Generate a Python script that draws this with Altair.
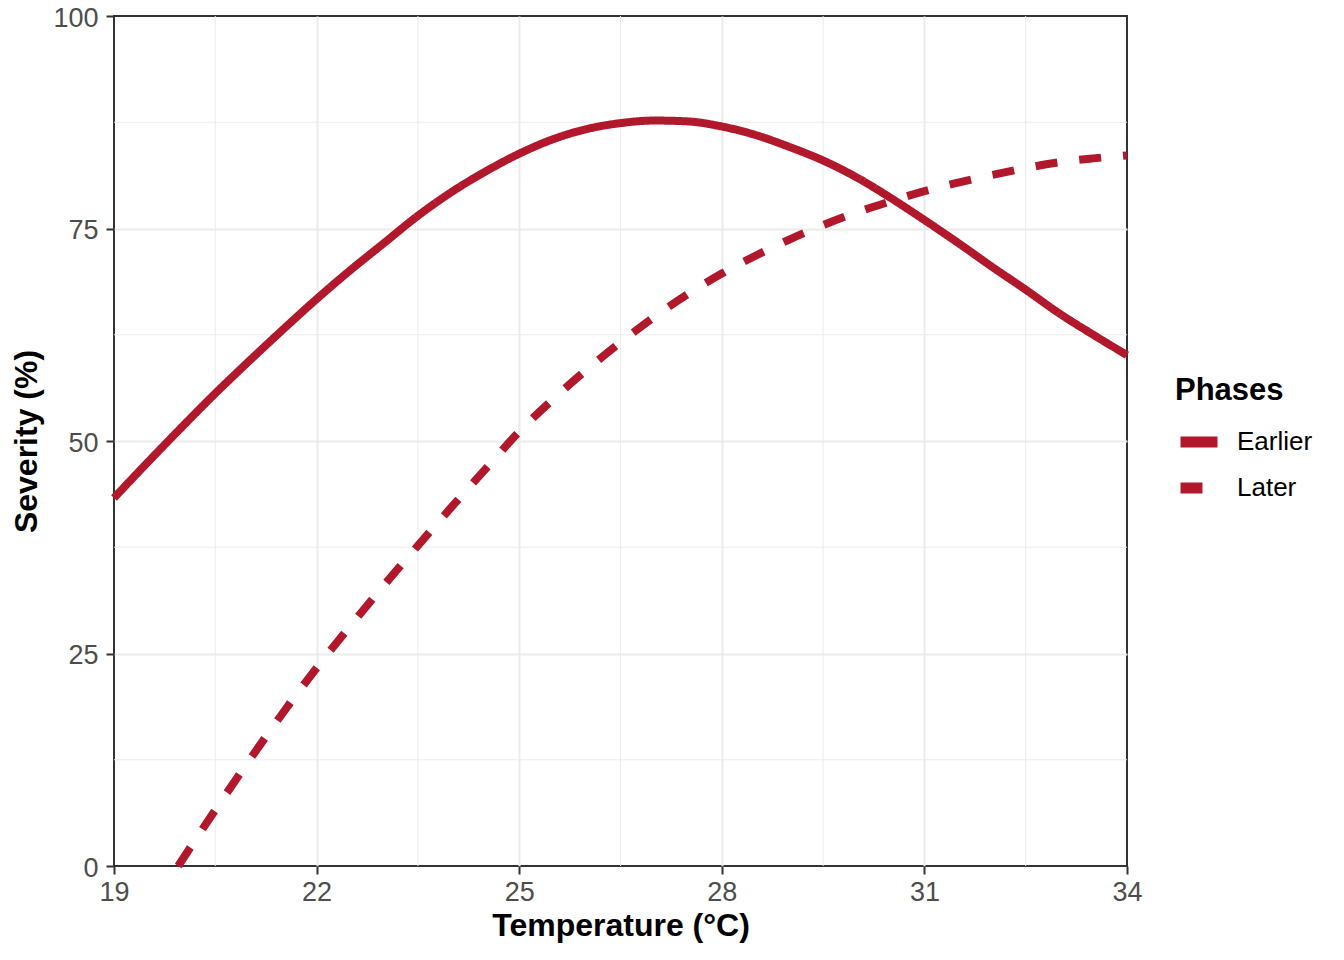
import altair as alt
import pandas as pd

# Temperature grid (°C)
temps = [19.0, 19.5, 20.0, 20.5, 21.0, 21.5, 22.0, 22.5, 23.0, 23.5, 24.0, 24.5, 25.0,
         25.5, 26.0, 26.5, 27.0, 27.5, 28.0, 28.5, 29.0, 29.5, 30.0, 30.5, 31.0, 31.5,
         32.0, 32.5, 33.0, 33.5, 34.0]
earlier = [43.3, 47.5, 51.6, 55.6, 59.4, 63.1, 66.7, 70.1, 73.3, 76.5, 79.3, 81.7, 83.8,
           85.5, 86.7, 87.4, 87.7, 87.6, 87.0, 86.0, 84.6, 83.0, 81.0, 78.6, 76.0, 73.3,
           70.5, 67.8, 65.0, 62.5, 60.1]

later_temps = [19.95, 20.5, 21.0, 21.5, 22.0, 22.5, 23.0, 23.5, 24.0, 24.5, 25.0, 25.5,
               26.0, 26.5, 27.0, 27.5, 28.0, 28.5, 29.0, 29.5, 30.0, 30.5, 31.0, 31.5,
               32.0, 32.5, 33.0, 33.5, 34.0]
later = [0.0, 6.6, 12.4, 18.0, 23.3, 28.25, 33.05, 37.7, 42.25, 46.7, 51.1, 54.9,
         58.4, 61.6, 64.6, 67.3, 69.7, 71.8, 73.7, 75.4, 76.9, 78.2, 79.4, 80.4,
         81.3, 82.1, 82.8, 83.25, 83.6]

phases = ["Earlier", "Later"]
x_ticks = [19, 22, 25, 28, 31, 34]
y_ticks = [0, 25, 50, 75, 100]
x_minor = [20.5, 23.5, 26.5, 29.5, 32.5]
y_minor = [12.5, 37.5, 62.5, 87.5]

df = pd.concat([
    pd.DataFrame({"T": temps, "S": earlier, "Phases": phases[0]}),
    pd.DataFrame({"T": later_temps, "S": later, "Phases": phases[1]}),
], ignore_index=True)

RED = "#B2182B"
GRID = "#EBEBEB"
FONT = "Liberation Sans"

xscale = alt.Scale(domain=[19, 34], nice=False, zero=False)
yscale = alt.Scale(domain=[0, 100], nice=False)

def grid_color(lo, hi):
    return {"condition": {"test": f"datum.value == {lo} || datum.value == {hi}",
                          "value": "transparent"},
            "value": GRID}

common = dict(grid=True, gridWidth=2, domain=False,
              tickColor="#333333", tickSize=8, tickWidth=2,
              labelFontSize=27, labelColor="#4D4D4D", labelFont=FONT,
              titleFont=FONT, titleFontSize=32, titleFontWeight="bold",
              titleColor="black", labelFlush=False)
xaxis = alt.Axis(values=x_ticks, labelPadding=5, titlePadding=5,
                 gridColor=grid_color(19, 34), **common)
yaxis = alt.Axis(values=y_ticks, labelPadding=8, titlePadding=9, labelOffset=2,
                 gridColor=grid_color(0, 100), **common)
XT = "Temperature (°C)"
YT = "Severity (%)"

minor_x = alt.Chart(pd.DataFrame({"T": x_minor})).mark_rule(
    color=GRID, strokeWidth=1
).encode(x=alt.X("T:Q", scale=xscale, axis=xaxis, title=XT))

minor_y = alt.Chart(pd.DataFrame({"S": y_minor})).mark_rule(
    color=GRID, strokeWidth=1
).encode(y=alt.Y("S:Q", scale=yscale, axis=yaxis, title=YT))

lines = alt.Chart(df).mark_line(strokeWidth=8, color=RED, strokeCap="butt",
                                interpolate="monotone").encode(
    x=alt.X("T:Q", scale=xscale, title=XT, axis=xaxis),
    y=alt.Y("S:Q", scale=yscale, title=YT, axis=yaxis),
    strokeDash=alt.StrokeDash(
        "Phases:N",
        scale=alt.Scale(domain=phases, range=[[1, 0], [22, 22]]),
        legend=alt.Legend(title="Phases", orient="none", legendX=1061, legendY=360,
                          titleFont=FONT, titleFontSize=31, titleFontWeight="bold",
                          titleColor="black", labelFont=FONT, labelFontSize=26,
                          labelColor="black", symbolType="stroke", symbolSize=1369,
                          symbolStrokeWidth=11, symbolStrokeColor=RED,
                          labelOffset=14, rowPadding=-3, titlePadding=11),
    ),
    detail="Phases:N",
    order="T:Q",
)

chart = alt.layer(minor_x, minor_y, lines).properties(
    width=1013, height=850,
    padding={"left": 106, "top": 8, "right": 209, "bottom": 86},
    autosize=alt.AutoSizeParams(type="none"),
    background="white",
).configure_view(stroke="#333333", strokeWidth=2)

chart.save("out.html", embed_options={"renderer": "svg", "actions": False})
